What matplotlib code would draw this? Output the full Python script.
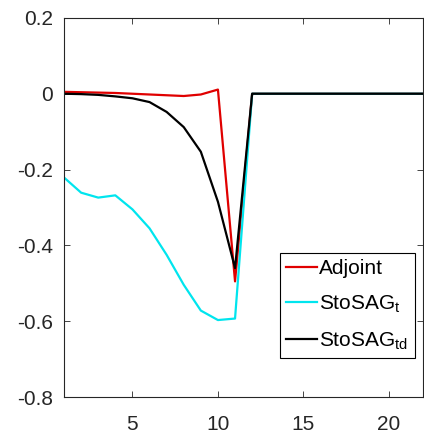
import numpy as np
import matplotlib.pyplot as plt

plt.rcParams['font.family'] = ['Liberation Sans', 'DejaVu Sans']
plt.rcParams['mathtext.fontset'] = 'custom'
plt.rcParams['mathtext.rm'] = 'Liberation Sans'

steps = np.arange(1, 23)
adjoint = [0.005, 0.004, 0.003, 0.002, 0.0, -0.002, -0.004, -0.006, -0.002, 0.011, -0.495,
           0, 0, 0, 0, 0, 0, 0, 0, 0, 0, 0]
stosag_t = [-0.221, -0.261, -0.274, -0.268, -0.305, -0.355, -0.425, -0.504, -0.572, -0.597, -0.593,
            0, 0, 0, 0, 0, 0, 0, 0, 0, 0, 0]
stosag_td = [0.0, -0.001, -0.003, -0.007, -0.012, -0.022, -0.048, -0.088, -0.153, -0.285, -0.46,
             0, 0, 0, 0, 0, 0, 0, 0, 0, 0, 0]

fig = plt.figure(figsize=(4.24, 4.37), dpi=100)
ax = fig.add_axes([0.151, 0.0915, 0.847, 0.8675])

ax.plot(steps, adjoint, color='#e00000', lw=1.6, label='Adjoint')
ax.plot(steps, stosag_t, color='#00e5ee', lw=1.6, label=r'StoSAG$\mathregular{_t}$')
ax.plot(steps, stosag_td, color='black', lw=1.6, label=r'StoSAG$\mathregular{_{td}}$')

ax.set_xlim(1, 22)
ax.set_ylim(-0.8, 0.2)
ax.set_xticks([5, 10, 15, 20])
ax.set_yticks([-0.8, -0.6, -0.4, -0.2, 0, 0.2])
ax.set_yticklabels(['-0.8', '-0.6', '-0.4', '-0.2', '0', '0.2'])
ax.tick_params(direction='in', top=True, right=True, labelsize=15, colors='#262626',
               length=4, width=0.6)
ax.tick_params(axis='y', pad=8)
ax.tick_params(axis='x', pad=13)
for s in ax.spines.values():
    s.set_color('#262626')
    s.set_linewidth(0.8)

leg = ax.legend(loc='lower right', bbox_to_anchor=(1.005, 0.075), fontsize=15,
                handlelength=1.5, handletextpad=0.1, borderpad=0.3,
                labelspacing=0.75, fancybox=False, framealpha=1)
leg.get_frame().set_edgecolor('black')
leg.get_frame().set_linewidth(0.8)

fig.savefig('out.png', dpi=100)
